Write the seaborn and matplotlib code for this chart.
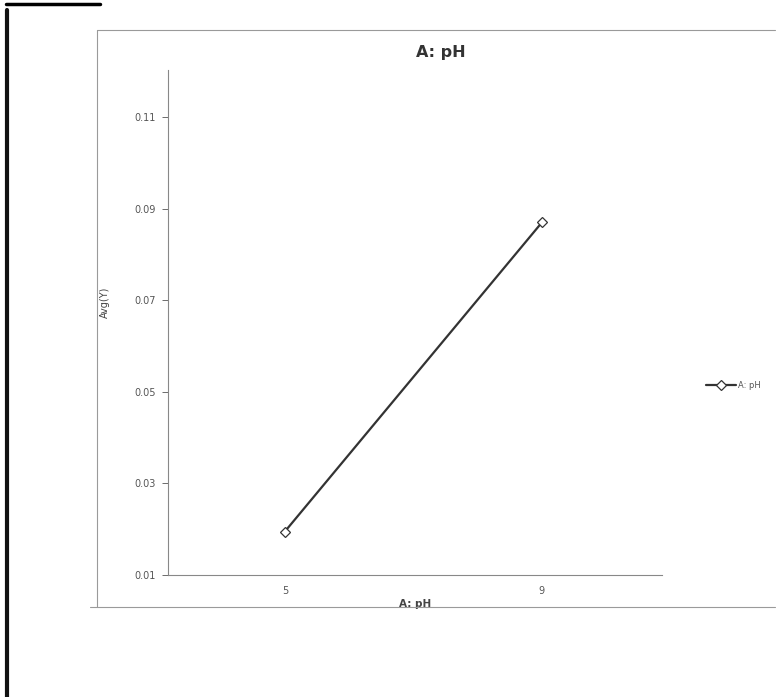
import matplotlib
matplotlib.use("Agg")
import matplotlib.pyplot as plt
import seaborn as sns
import pandas as pd
from matplotlib.lines import Line2D

ph_levels = [5, 9]
avg_y = [0.0195, 0.0870]
series_name = "A: pH"
y_ticks = [0.01, 0.03, 0.05, 0.07, 0.09, 0.11]
x_ticks = [5, 9]

df = pd.DataFrame({"A: pH": ph_levels, "Avg(Y)": avg_y, "series": series_name})

sns.set_style("white")
plt.rcParams["font.family"] = ["DejaVu Sans"]

W, H = 780, 697
fig = plt.figure(figsize=(7.8, 6.97), dpi=100)
ax = fig.add_axes([168 / W, 1 - 575 / H, (662 - 168) / W, (575 - 70) / H])

sns.lineplot(data=df, x="A: pH", y="Avg(Y)", hue="series", palette=["#333333"],
             marker="D", markersize=5, markerfacecolor="white",
             markeredgecolor="#333333", markeredgewidth=0.9, linewidth=1.6, ax=ax)

ax.set_xlim(3.18, 10.87)
ax.set_ylim(0.01, 0.1203)
ax.set_xticks(x_ticks)
ax.set_yticks(y_ticks)
ax.set_yticklabels([f"{v:.2f}" for v in y_ticks])
ax.tick_params(axis="both", labelsize=7, colors="#555555", length=4, width=0.6)
ax.tick_params(axis="x", length=0, pad=8)
ax.tick_params(axis="y", left=True, pad=5)
for s in ["top", "right"]:
    ax.spines[s].set_visible(False)
for s in ["left", "bottom"]:
    ax.spines[s].set_color("#888888")
    ax.spines[s].set_linewidth(0.8)

ax.set_title("A: pH", fontsize=11.5, fontweight="bold", color="#333333", pad=9,
             x=(441 - 168) / 494)
ax.set_xlabel("A: pH", fontsize=7.5, fontweight="bold", color="#444444", labelpad=2)
ax.set_ylabel("Avg(Y)", fontsize=7, color="#444444")
ax.yaxis.set_label_coords(-(168 - 110) / 494, (575 - 302) / 505)

leg = ax.legend(handles=ax.get_legend_handles_labels()[0],
                labels=[series_name], loc="center left",
                bbox_to_anchor=(698 / W, 1 - 385 / H), bbox_transform=fig.transFigure,
                frameon=False, fontsize=6, handlelength=3.6, handletextpad=0.3)
for t in leg.get_texts():
    t.set_color("#555555")

# outer chart frame
fr = "#9a9a9a"
fig.add_artist(Line2D([97 / W, 775 / W], [1 - 30 / H, 1 - 30 / H], color=fr, lw=0.8))
fig.add_artist(Line2D([97 / W, 97 / W], [1 - 30 / H, 1 - 607 / H], color=fr, lw=0.8))
fig.add_artist(Line2D([90 / W, 775 / W], [1 - 607 / H, 1 - 607 / H], color=fr, lw=0.8))

# scanned page edge and heading
fig.add_artist(Line2D([7 / W, 7 / W], [1 - 10 / H, 0], color="#111111", lw=3))
fig.text(6 / W, 1 + 4 / H, "Graph 1", fontsize=16, fontweight="bold", va="baseline", ha="left", color="black")
fig.add_artist(Line2D([6 / W, 100 / W], [1 - 4 / H, 1 - 4 / H], color="black", lw=2.5))

fig.savefig("out.png", dpi=100)
